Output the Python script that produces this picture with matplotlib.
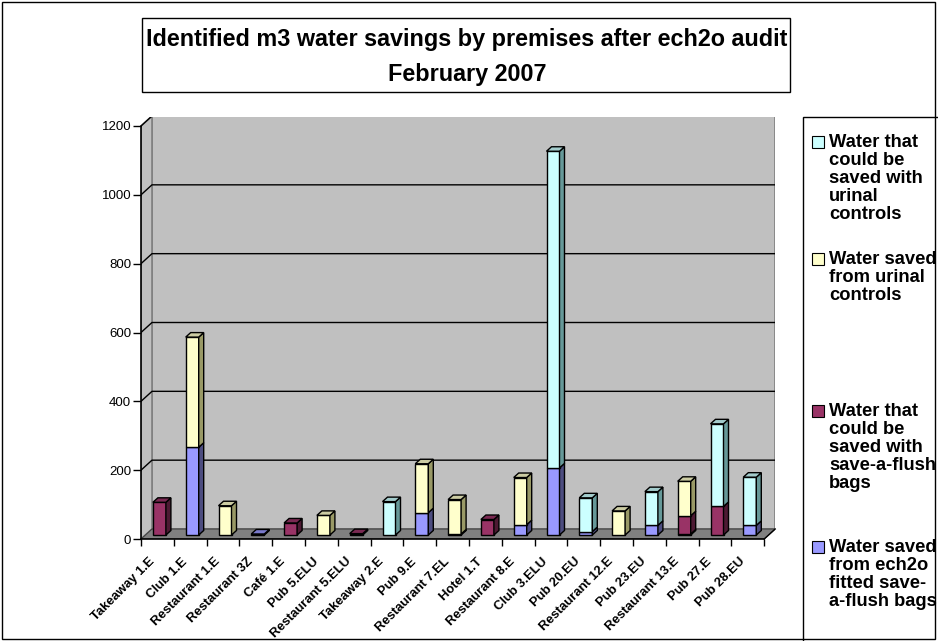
import numpy as np
import matplotlib.pyplot as plt
from matplotlib.patches import Rectangle

plt.rcParams['font.family'] = ['Liberation Sans', 'DejaVu Sans']

## data (m3)
premises = ['Takeaway 1.E', 'Club 1.E', 'Restaurant 1.E', 'Restaurant 3Z', 'Café 1.E',
            'Pub 5.ELU', 'Restaurant 5.ELU', 'Takeaway 2.E', 'Pub 9.E', 'Restaurant 7.EL',
            'Hotel 1.T', 'Restaurant 8.E', 'Club 3.ELU', 'Pub 20.EU', 'Restaurant 12.E',
            'Pub 23.EU', 'Restaurant 13.E', 'Pub 27.E', 'Pub 28.EU']
saved_bags = [0, 255, 0, 3, 0, 0, 0, 0, 65, 0, 0, 30, 195, 10, 0, 28, 3, 0, 28]
could_bags = [95, 0, 0, 0, 35, 0, 4, 0, 0, 3, 45, 0, 0, 0, 0, 0, 53, 83, 0]
saved_urinal = [0, 320, 85, 0, 0, 57, 0, 0, 142, 100, 0, 137, 0, 0, 70, 0, 100, 0, 0]
could_urinal = [0, 0, 0, 0, 0, 0, 0, 97, 0, 0, 0, 0, 920, 98, 0, 98, 0, 240, 140]

series = [saved_bags, could_bags, saved_urinal, could_urinal]
labels = ['Water saved\nfrom ech2o\nfitted save-\na-flush bags',
          'Water that\ncould be\nsaved with\nsave-a-flush\nbags',
          'Water saved\nfrom urinal\ncontrols',
          'Water that\ncould be\nsaved with\nurinal\ncontrols']
front_cols = ['#9999FF', '#993366', '#FFFFCC', '#CCFFFF']
side_cols = ['#4D4D80', '#4D1A33', '#999966', '#669999']
top_cols = ['#7A7ACC', '#7A2952', '#CCCCA3', '#A3CCCC']

W, H = 938, 641
fig = plt.figure(figsize=(W / 100, H / 100), dpi=100)

# plot area in pixels
px_left, px_right, px_bot, px_top = 141, 775, 539, 117
px_per_cat = 32.8
px_per_val = (539 - 126) / 1200
ax = fig.add_axes([px_left / W, (H - px_bot) / H, (px_right - px_left) / W, (px_bot - px_top) / H])
ax.set_xlim(-0.5, -0.5 + (px_right - px_left) / px_per_cat)
ax.set_ylim(0, (px_bot - px_top) / px_per_val)
ax.patch.set_alpha(0)
for s in ax.spines.values():
    s.set_visible(False)

n = len(premises)
ddx, ddy = 11 / px_per_cat, 10 / px_per_val     # wall depth
ox, oy = 4 / px_per_cat, 4 / px_per_val         # bar offset into the depth
bw, bdx, bdy = 13 / px_per_cat, 5 / px_per_cat, 4.5 / px_per_val
x0, x1 = -0.5, n - 0.5

# walls and floor
ax.fill([x0 + ddx, x1 + ddx, x1 + ddx, x0 + ddx], [ddy, ddy, 1200 + ddy, 1200 + ddy],
        color='#C0C0C0', ec='#808080', lw=1.2, zorder=0)
ax.fill([x0, x0 + ddx, x0 + ddx, x0], [0, ddy, 1200 + ddy, 1200],
        color='#C0C0C0', ec='#808080', lw=1.2, zorder=0)
ax.fill([x0, x1, x1 + ddx, x0 + ddx], [0, 0, ddy, ddy], color='#808080', ec='#404040', lw=0.8, zorder=1)

yticks = np.arange(0, 1201, 200)
for v in yticks[1:]:
    ax.plot([x0, x0 + ddx, x1 + ddx], [v, v + ddy, v + ddy], color='black', lw=1, zorder=1)

# stacked 3d-ish columns
for i in range(n):
    base = 0
    xl = i - 0.5 + (px_per_cat - 13) / 2 / px_per_cat + ox - 2 / px_per_cat
    tops = [k for k in range(4) if series[k][i] > 0]
    for k in range(4):
        h = series[k][i]
        if h <= 0:
            continue
        yb = base + oy
        ax.bar(xl, h, width=bw, bottom=yb, align='edge', color=front_cols[k],
               edgecolor='black', lw=1, zorder=3)
        xr = xl + bw
        ax.fill([xr, xr + bdx, xr + bdx, xr], [yb, yb + bdy, yb + h + bdy, yb + h],
                color=side_cols[k], ec='black', lw=1, zorder=3)
        if k == tops[-1]:
            yt = yb + h
            ax.fill([xl, xr, xr + bdx, xl + bdx], [yt, yt, yt + bdy, yt + bdy],
                    color=top_cols[k], ec='black', lw=1, zorder=3)
        base += h

# axes lines and ticks
ax.plot([x0, x0], [0, 1200], color='black', lw=1.2, clip_on=False, zorder=2)
ax.plot([x0, x1], [0, 0], color='black', lw=1.2, clip_on=False, zorder=2)
ax.plot([x1, x1 + ddx], [0, ddy], color='black', lw=1, clip_on=False, zorder=2)
ax.set_yticks(yticks)
ax.set_yticklabels([str(v) for v in yticks], fontsize=9.5)
ax.tick_params(axis='y', length=6, width=1, pad=1)
ax.set_xticks(np.arange(n) - 5 / px_per_cat)
ax.set_xticklabels(premises, rotation=45, ha='right', va='center', rotation_mode='anchor',
                   fontsize=9.4, fontweight='bold')
ax.tick_params(axis='x', length=0, pad=15)
ax.set_xticks(np.arange(n + 1) - 0.5, minor=True)
ax.tick_params(axis='x', which='minor', length=5, width=1)

# title box
fig.patches.append(Rectangle((142 / W, 1 - 92 / H), 648 / W, 74 / H, transform=fig.transFigure,
                             fill=False, ec='black', lw=1))
fig.text(467 / W, 1 - 46 / H, 'Identified m3 water savings by premises after ech2o audit',
         ha='center', va='baseline', fontsize=16.8, fontweight='bold')
fig.text(467 / W, 1 - 81 / H, 'February 2007',
         ha='center', va='baseline', fontsize=16.8, fontweight='bold')

# legend
fig.patches.append(Rectangle((803 / W, 1 - 700 / H), 200 / W, 583 / H, transform=fig.transFigure,
                             fill=False, ec='black', lw=1))
leg_base = [148, 265, 417, 553]
for k, y in zip([3, 2, 1, 0], leg_base):
    fig.patches.append(Rectangle((812 / W, 1 - y / H), 12 / W, 12 / H, transform=fig.transFigure,
                                 fc=front_cols[k], ec='black', lw=0.8))
    fig.text(829 / W, 1 - (y - 14) / H, labels[k], ha='left', va='top', fontsize=13.2,
             fontweight='bold', linespacing=1.08)

# outer border
fig.patches.append(Rectangle((2 / W, 2 / H), 933 / W, 637 / H, transform=fig.transFigure,
                             fill=False, ec='black', lw=1))

plt.savefig('out.png', dpi=100)
